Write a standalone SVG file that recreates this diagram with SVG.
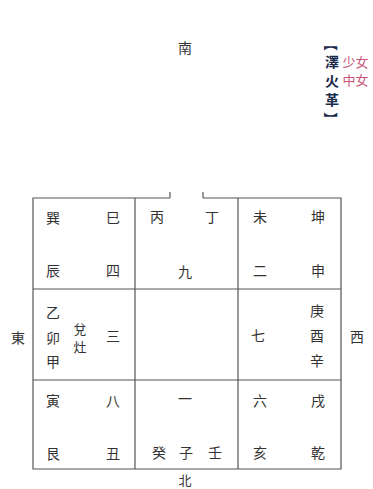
<svg xmlns="http://www.w3.org/2000/svg" width="373" height="489" viewBox="0 0 373 489">
<style>
text{font-family:"Noto Sans CJK SC","Noto Sans CJK JP",sans-serif;font-size:14px;fill:#333;text-anchor:middle;dominant-baseline:central}
.ln{stroke:#555;stroke-width:1.2;fill:none}
.t{font-weight:bold;font-size:14px;fill:#1a2a4a}
.r{fill:#c8557a;font-size:13px}
.s{font-size:13px}
</style>
<rect width="373" height="489" fill="#fff"/>
<g id="connectors">
<path class="ln" d="M170,198 H33 V469 H341 V198 H203 M170,192 V198 M203,192 V198"/>
<path class="ln" d="M135,198 V469 M238,198 V469 M33,289 H341 M33,380 H341"/>
</g>
<g id="south"><text x="185" y="47">南</text></g>
<g id="north"><text x="185" y="479" class="s">北</text></g>
<g id="east"><text x="18" y="337">東</text></g>
<g id="west"><text x="357" y="336">西</text></g>
<g id="title">
<text class="t" transform="translate(332,44) rotate(90)">【</text>
<text class="t" x="332" y="61">澤</text>
<text class="t" x="332" y="80">火</text>
<text class="t" x="332" y="99">革</text>
<text class="t" transform="translate(332,119) rotate(90)">】</text>
<text class="r" x="349" y="61">少</text><text class="r" x="362" y="61">女</text>
<text class="r" x="349" y="79">中</text><text class="r" x="362" y="79">女</text>
</g>
<g id="cell-southeast">
<text x="53" y="217">巽</text><text x="113" y="217">巳</text>
<text x="53" y="270">辰</text><text x="113" y="270">四</text>
</g>
<g id="cell-south">
<text x="157" y="216">丙</text><text x="212" y="216">丁</text>
<text x="185" y="271">九</text>
</g>
<g id="cell-southwest">
<text x="260" y="216">未</text><text x="318" y="216">坤</text>
<text x="260" y="270">二</text><text x="318" y="270">申</text>
</g>
<g id="cell-east">
<text x="53" y="312">乙</text><text x="53" y="337">卯</text><text x="53" y="361">甲</text>
<text class="s" x="80" y="328">兌</text><text class="s" x="80" y="346">灶</text>
<text x="113" y="335">三</text>
</g>
<g id="cell-west">
<text x="258" y="335">七</text>
<text x="317" y="310">庚</text><text x="317" y="335">酉</text><text x="317" y="360">辛</text>
</g>
<g id="cell-northeast">
<text x="53" y="400">寅</text><text x="113" y="400">八</text>
<text x="53" y="453">艮</text><text x="113" y="453">丑</text>
</g>
<g id="cell-north">
<text x="185" y="398">一</text>
<text x="159" y="452">癸</text><text x="186" y="452">子</text><text x="215" y="452">壬</text>
</g>
<g id="cell-northwest">
<text x="260" y="400">六</text><text x="318" y="400">戌</text>
<text x="260" y="452">亥</text><text x="318" y="452">乾</text>
</g>
</svg>
